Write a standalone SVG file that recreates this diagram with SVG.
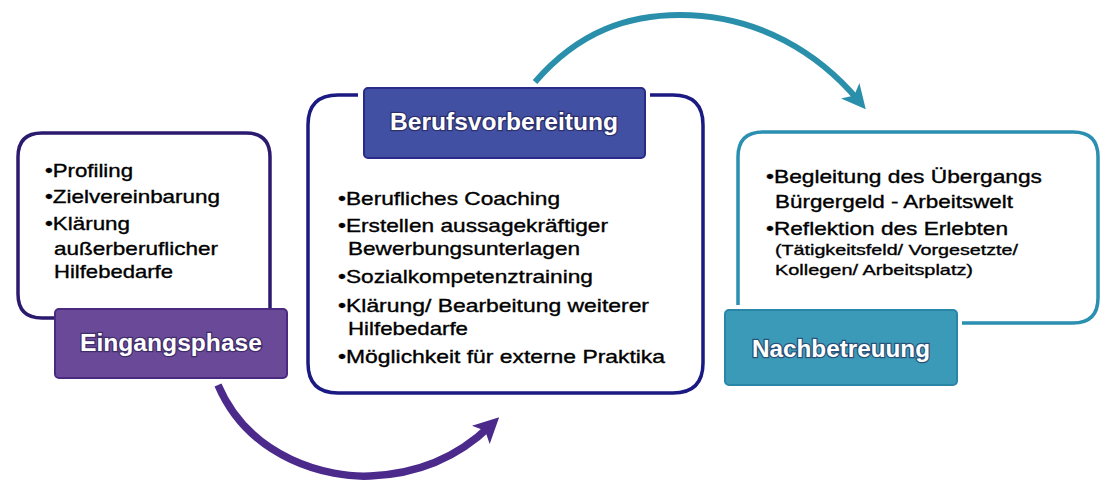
<svg xmlns="http://www.w3.org/2000/svg" width="1113" height="495" viewBox="0 0 1113 495">
<style>
.t{font-family:"Liberation Sans",Arial,sans-serif;font-size:18.5px;fill:#000;stroke:#000;stroke-width:0.35}
.s{font-size:15px}
.lbl{font-family:"Liberation Sans",Arial,sans-serif;font-size:23px;font-weight:bold;fill:#fff;stroke:#1c1440;stroke-width:2.5;stroke-opacity:0.55;paint-order:stroke}
.box{fill:#fff;stroke-width:3.5}
</style>
<defs>
<marker id="hp" markerWidth="3.4" markerHeight="3.4" refX="1.7" refY="1.7" orient="auto" markerUnits="strokeWidth"><path d="M0,0 L3.4,1.7 L0,3.4 L0.8,1.7 Z" fill="#4b2a8c"/></marker>
<marker id="ht" markerWidth="4" markerHeight="4" refX="2" refY="2" orient="auto" markerUnits="strokeWidth"><path d="M0,0 L4,2 L0,4 L1,2 Z" fill="#2a8fab"/></marker>
</defs>
<g id="connectors" fill="none">
<path d="M218,385 C250,460 330,478 370,476 C420,474 460,455 490,426" stroke="#4b2a8c" stroke-width="7.5" marker-end="url(#hp)"/>
<path d="M535,82 C580,30 630,15 680,15 C760,15 820,55 858,100" stroke="#2a8fab" stroke-width="6" marker-end="url(#ht)"/>
</g>
<g id="eingangsphase">
<path class="box" d="M55,318 L42,318 Q18,318 18,294 L18,157 Q18,133 42,133 L246,133 Q270,133 270,157 L270,310" stroke="#2b1a6e"/>
<rect x="55" y="309" width="232" height="69" rx="4" fill="#6a4a98" stroke="#4a2a80" stroke-width="2"/>
<text class="lbl" x="80" y="351" textLength="182" lengthAdjust="spacingAndGlyphs">Eingangsphase</text>
<text class="t" x="45" y="177" textLength="88" lengthAdjust="spacingAndGlyphs">•Profiling</text>
<text class="t" x="45" y="203" textLength="175" lengthAdjust="spacingAndGlyphs">•Zielvereinbarung</text>
<text class="t" x="45" y="230" textLength="85" lengthAdjust="spacingAndGlyphs">•Klärung</text>
<text class="t" x="54" y="255" textLength="164" lengthAdjust="spacingAndGlyphs">außerberuflicher</text>
<text class="t" x="54" y="278" textLength="119" lengthAdjust="spacingAndGlyphs">Hilfebedarfe</text>
</g>
<g id="berufsvorbereitung">
<path class="box" d="M358,95 L338,95 Q308,95 308,125 L308,363 Q308,393 338,393 L673,393 Q703,393 703,363 L703,125 Q703,95 673,95 L650,95" stroke="#1a1a82"/>
<rect x="364" y="88" width="281" height="70" rx="4" fill="#4150a2" stroke="#2a2a88" stroke-width="2"/>
<text class="lbl" x="390" y="130" textLength="228" lengthAdjust="spacingAndGlyphs">Berufsvorbereitung</text>
<text class="t" x="338" y="205" textLength="222" lengthAdjust="spacingAndGlyphs">•Berufliches Coaching</text>
<text class="t" x="338" y="232" textLength="270" lengthAdjust="spacingAndGlyphs">•Erstellen aussagekräftiger</text>
<text class="t" x="348" y="255" textLength="232" lengthAdjust="spacingAndGlyphs">Bewerbungsunterlagen</text>
<text class="t" x="338" y="283" textLength="255" lengthAdjust="spacingAndGlyphs">•Sozialkompetenztraining</text>
<text class="t" x="338" y="312" textLength="311" lengthAdjust="spacingAndGlyphs">•Klärung/ Bearbeitung weiterer</text>
<text class="t" x="348" y="335" textLength="120" lengthAdjust="spacingAndGlyphs">Hilfebedarfe</text>
<text class="t" x="338" y="363" textLength="327" lengthAdjust="spacingAndGlyphs">•Möglichkeit für externe Praktika</text>
</g>
<g id="nachbetreuung">
<path class="box" d="M738,305 L738,157 Q738,132 763,132 L1073,132 Q1098,132 1098,157 L1098,298 Q1098,323 1073,323 L962,323" stroke="#2a8fb0"/>
<rect x="725" y="310" width="232" height="75" rx="4" fill="#3a9ab8" stroke="#2a86a6" stroke-width="2"/>
<text class="lbl" x="752" y="357" textLength="178" lengthAdjust="spacingAndGlyphs">Nachbetreuung</text>
<text class="t" x="766" y="183" textLength="276" lengthAdjust="spacingAndGlyphs">•Begleitung des Übergangs</text>
<text class="t" x="775" y="208" textLength="238" lengthAdjust="spacingAndGlyphs">Bürgergeld - Arbeitswelt</text>
<text class="t" x="766" y="235" textLength="242" lengthAdjust="spacingAndGlyphs">•Reflektion des Erlebten</text>
<text class="t s" x="775" y="255" textLength="243" lengthAdjust="spacingAndGlyphs">(Tätigkeitsfeld/ Vorgesetzte/</text>
<text class="t s" x="775" y="275" textLength="198" lengthAdjust="spacingAndGlyphs">Kollegen/ Arbeitsplatz)</text>
</g>
</svg>
